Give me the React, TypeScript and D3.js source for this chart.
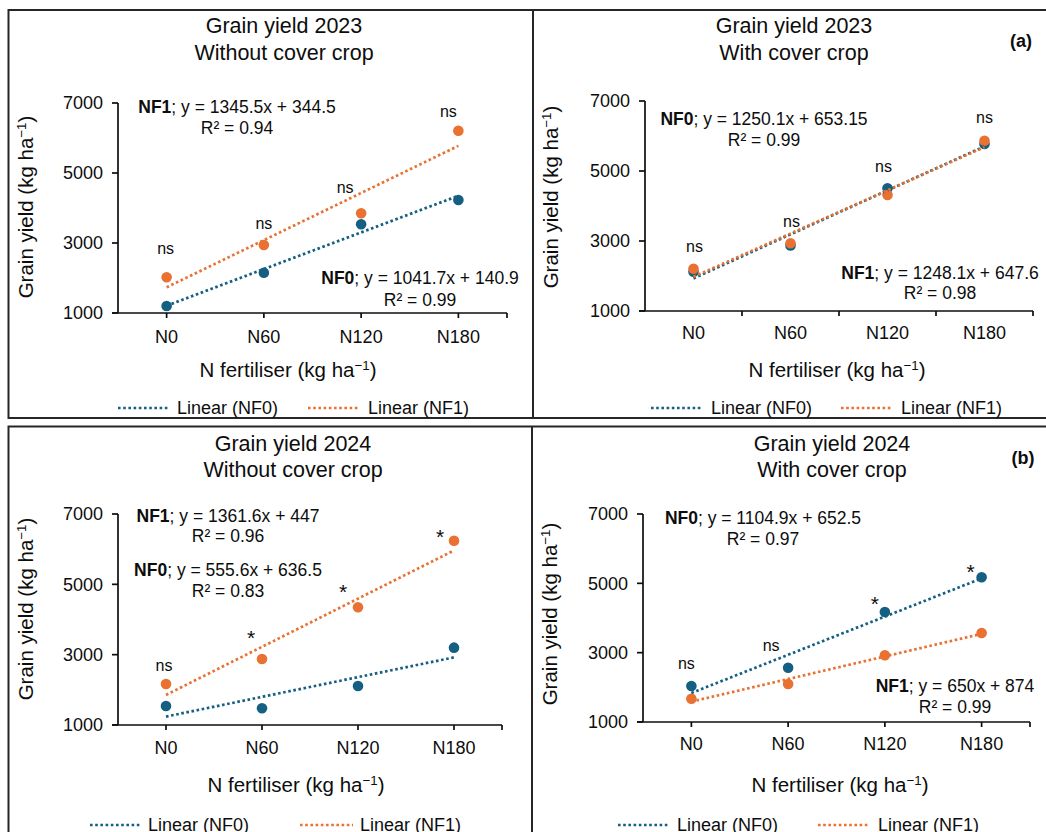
import React from "react";
import * as d3 from "d3";

// ---------- data ----------
const categories = ["N0", "N60", "N120", "N180"];
const xValues = [1, 2, 3, 4];
const yTickValues = [1000, 3000, 5000, 7000];
const legendLabels = ["Linear (NF0)", "Linear (NF1)"];

const yield2023NoCC_NF0 = [1200, 2151, 3534, 4229];
const yield2023NoCC_NF1 = [2020, 2943, 3848, 6209];
const yield2023CC_NF0 = [2123, 2870, 4506, 5771];
const yield2023CC_NF1 = [2209, 2934, 4314, 5866];
const yield2024NoCC_NF0 = [1540, 1475, 2110, 3199];
const yield2024NoCC_NF1 = [2166, 2878, 4348, 6241];
const yield2024CC_NF0 = [2039, 2567, 4175, 5176];
const yield2024CC_NF1 = [1672, 2097, 2925, 3568];

const sig2023NoCC = ["ns", "ns", "ns", "ns"];
const sig2023CC = ["ns", "ns", "ns", "ns"];
const sig2024NoCC = ["ns", "*", "*", "*"];
const sig2024CC = ["ns", "ns", "*", "*"];

const eq2023NoCC = [
  { name: "NF1", eq: "; y = 1345.5x + 344.5", r2: "R² = 0.94" },
  { name: "NF0", eq: "; y = 1041.7x + 140.9", r2: "R² = 0.99" },
];
const eq2023CC = [
  { name: "NF0", eq: "; y = 1250.1x + 653.15", r2: "R² = 0.99" },
  { name: "NF1", eq: "; y = 1248.1x + 647.6", r2: "R² = 0.98" },
];
const eq2024NoCC = [
  { name: "NF1", eq: "; y = 1361.6x + 447", r2: "R² = 0.96" },
  { name: "NF0", eq: "; y = 555.6x + 636.5", r2: "R² = 0.83" },
];
const eq2024CC = [
  { name: "NF0", eq: "; y = 1104.9x + 652.5", r2: "R² = 0.97" },
  { name: "NF1", eq: "; y = 650x + 874", r2: "R² = 0.99" },
];

// ---------- style ----------
const FONT = "'Liberation Sans', Arial, Helvetica, sans-serif";
const BLUE = "#156082";
const ORANGE = "#E97132";
const INK = "#0d0d0d";
const FRAME = "#262626";
const COLORS = [BLUE, ORANGE];

function fit(xs: number[], ys: number[]) {
  const mx = d3.mean(xs) as number;
  const my = d3.mean(ys) as number;
  let num = 0, den = 0;
  xs.forEach((xv, i) => { num += (xv - mx) * (ys[i] - my); den += (xv - mx) ** 2; });
  const m = num / den;
  return { m, b: my - m * mx };
}

function Sup({ main }: { main: string }) {
  return (
    <>
      {main}
      <tspan fontSize="0.65em" dy="-0.55em">−1</tspan>
      <tspan dy="0.3575em">)</tspan>
    </>
  );
}

const panels = [
  {
    title1: "Grain yield 2023", title2: "Without cover crop",
    nf0: yield2023NoCC_NF0, nf1: yield2023NoCC_NF1, sig: sig2023NoCC, eqs: eq2023NoCC,
    x0: 118, x1: 507, yTop: 103, yBot: 313, tickMode: "points", tickLabelY: 337,
    titleCx: 284, title1Y: 25, title2Y: 52, xTitleCx: 288, xTitleY: 370, yTitleCx: 26, yTitleCy: 207,
    legendY: 408, legend: [[118, 168, 177], [308, 360, 368]],
    eqPos: [[237, 107, 128], [420, 278, 300]],
    sigOff: [[-1, -27], [0, -20], [-16, -24], [-10, -18]],
  },
  {
    title1: "Grain yield 2023", title2: "With cover crop",
    nf0: yield2023CC_NF0, nf1: yield2023CC_NF1, sig: sig2023CC, eqs: eq2023CC,
    x0: 645, x1: 1033, yTop: 101, yBot: 311, tickMode: "between", tickLabelY: 333,
    titleCx: 794, title1Y: 25, title2Y: 52, xTitleCx: 837, xTitleY: 370, yTitleCx: 551, yTitleCy: 197,
    legendY: 408, legend: [[651, 703, 711], [841, 893, 901]],
    eqPos: [[764, 119, 140], [940, 273, 293]],
    sigOff: [[1, -21], [1, -20], [-4, -20], [0, -22]],
    tag: { text: "(a)", x: 1021, y: 41 },
  },
  {
    title1: "Grain yield 2024", title2: "Without cover crop",
    nf0: yield2024NoCC_NF0, nf1: yield2024NoCC_NF1, sig: sig2024NoCC, eqs: eq2024NoCC,
    x0: 118, x1: 502, yTop: 514, yBot: 725, tickMode: "points", tickLabelY: 748,
    titleCx: 293, title1Y: 443, title2Y: 469, xTitleCx: 296, xTitleY: 785, yTitleCx: 26, yTitleCy: 609,
    legendY: 825, legend: [[90, 142, 148], [300, 353, 360]],
    eqPos: [[228, 516, 536], [228, 570, 591]],
    sigOff: [[-2, -17], [-11, -27], [-15, -21], [-14, -9]],
  },
  {
    title1: "Grain yield 2024", title2: "With cover crop",
    nf0: yield2024CC_NF0, nf1: yield2024CC_NF1, sig: sig2024CC, eqs: eq2024CC,
    x0: 643, x1: 1030, yTop: 514, yBot: 722, tickMode: "points", tickLabelY: 744,
    titleCx: 832, title1Y: 443, title2Y: 469, xTitleCx: 840, xTitleY: 785, yTitleCx: 550, yTitleCy: 614,
    legendY: 825, legend: [[618, 670, 677], [818, 870, 878]],
    eqPos: [[763, 518, 539], [955, 686, 707]],
    sigOff: [[-5, -21], [-17, -21], [-10, -14], [-11, -11]],
    tag: { text: "(b)", x: 1023, y: 458 },
  },
];

function Panel({ p }: { p: any }) {
  const x = d3.scaleLinear().domain([0.5, 4.5]).range([p.x0, p.x1]);
  const y = d3.scaleLinear().domain([1000, 7000]).range([p.yBot, p.yTop]);
  const series = [p.nf0, p.nf1];
  const fits = series.map((s: number[]) => fit(xValues, s));
  const xTicks = p.tickMode === "points" ? [1, 2, 3, 4, 4.5] : [1.5, 2.5, 3.5, 4.5];
  const trend = (f: { m: number; b: number }) =>
    d3.line<number>().x((d) => x(d)).y((d) => y(f.m * d + f.b))([1, 4]) as string;
  const dash = { strokeWidth: 2.7, strokeDasharray: "2.6 2.6" };
  return (
    <g fontFamily={FONT} fill={INK}>
      <text x={p.titleCx} y={p.title1Y} dy="0.36em" fontSize={21.5} textAnchor="middle">{p.title1}</text>
      <text x={p.titleCx} y={p.title2Y} dy="0.36em" fontSize={21.5} textAnchor="middle">{p.title2}</text>
      {p.tag && (
        <text x={p.tag.x} y={p.tag.y} dy="0.36em" fontSize={18} fontWeight="bold" textAnchor="middle">{p.tag.text}</text>
      )}
      {/* axes */}
      <line x1={p.x0 - 6} x2={p.x1} y1={y(1000)} y2={y(1000)} stroke={INK} strokeWidth={1.7} />
      <line x1={p.x0} x2={p.x0} y1={y(7000)} y2={y(1000)} stroke={INK} strokeWidth={1.7} />
      {yTickValues.map((v) => (
        <g key={v}>
          <line x1={p.x0 - 6} x2={p.x0} y1={y(v)} y2={y(v)} stroke={INK} strokeWidth={1.7} />
          <text x={p.x0 - 15} y={y(v)} dy="0.36em" fontSize={18} textAnchor="end">{v}</text>
        </g>
      ))}
      {xTicks.map((v) => (
        <line key={v} x1={x(v)} x2={x(v)} y1={y(1000)} y2={y(1000) + 5} stroke={INK} strokeWidth={1.7} />
      ))}
      {categories.map((c, i) => (
        <text key={c} x={x(xValues[i])} y={p.tickLabelY} dy="0.36em" fontSize={18} textAnchor="middle">{c}</text>
      ))}
      <text x={p.xTitleCx} y={p.xTitleY} dy="0.36em" fontSize={20.5} textAnchor="middle"><Sup main="N fertiliser (kg ha" /></text>
      <text transform={`translate(${p.yTitleCx},${p.yTitleCy}) rotate(-90)`} dy="0.36em" fontSize={20.5} textAnchor="middle"><Sup main="Grain yield (kg ha" /></text>
      {/* markers */}
      {series.map((s: number[], si: number) =>
        s.map((v, i) => <circle key={`${si}-${i}`} cx={x(xValues[i])} cy={y(v)} r={5.3} fill={COLORS[si]} />)
      )}
      {/* trendlines */}
      {fits.map((f: any, si: number) => (
        <path key={si} d={trend(f)} fill="none" stroke={COLORS[si]} {...dash} />
      ))}
      {/* significance labels */}
      {p.sig.map((s: string, i: number) => {
        const top = Math.min(y(p.nf0[i]), y(p.nf1[i]));
        const [dx, dy] = p.sigOff[i];
        const isStar = s === "*";
        return (
          <text key={i} x={x(xValues[i]) + dx} y={top + dy} dy={isStar ? "0.6em" : "0.26em"}
            fontSize={isStar ? 21 : 16} textAnchor="middle">{s}</text>
        );
      })}
      {/* equations */}
      {p.eqs.map((e: any, i: number) => (
        <g key={i}>
          <text x={p.eqPos[i][0]} y={p.eqPos[i][1]} dy="0.36em" fontSize={17.5} textAnchor="middle">
            <tspan fontWeight="bold">{e.name}</tspan>{e.eq}
          </text>
          <text x={p.eqPos[i][0]} y={p.eqPos[i][2]} dy="0.36em" fontSize={17.5} textAnchor="middle">{e.r2}</text>
        </g>
      ))}
      {/* legend */}
      {p.legend.map((l: number[], i: number) => (
        <g key={i}>
          <line x1={l[0]} x2={l[1]} y1={p.legendY} y2={p.legendY} stroke={COLORS[i]} {...dash} />
          <text x={l[2]} y={p.legendY} dy="0.36em" fontSize={18}>{legendLabels[i]}</text>
        </g>
      ))}
    </g>
  );
}

export default function App() {
  return (
    <svg width={1046} height={832} style={{ position: "absolute", left: 0, top: 0, background: "#fff" }}>
      <rect x={0} y={0} width={1046} height={832} fill="#fff" />
      {/* frames */}
      <rect x={8.5} y={10} width={1060} height={408} fill="none" stroke={FRAME} strokeWidth={2} />
      <line x1={533} x2={533} y1={10} y2={418} stroke={FRAME} strokeWidth={2} />
      <rect x={8.5} y={426.5} width={1060} height={430} fill="none" stroke={FRAME} strokeWidth={2} />
      <line x1={532} x2={532} y1={426.5} y2={860} stroke={FRAME} strokeWidth={2} />
      {panels.map((p, i) => <Panel key={i} p={p} />)}
    </svg>
  );
}
